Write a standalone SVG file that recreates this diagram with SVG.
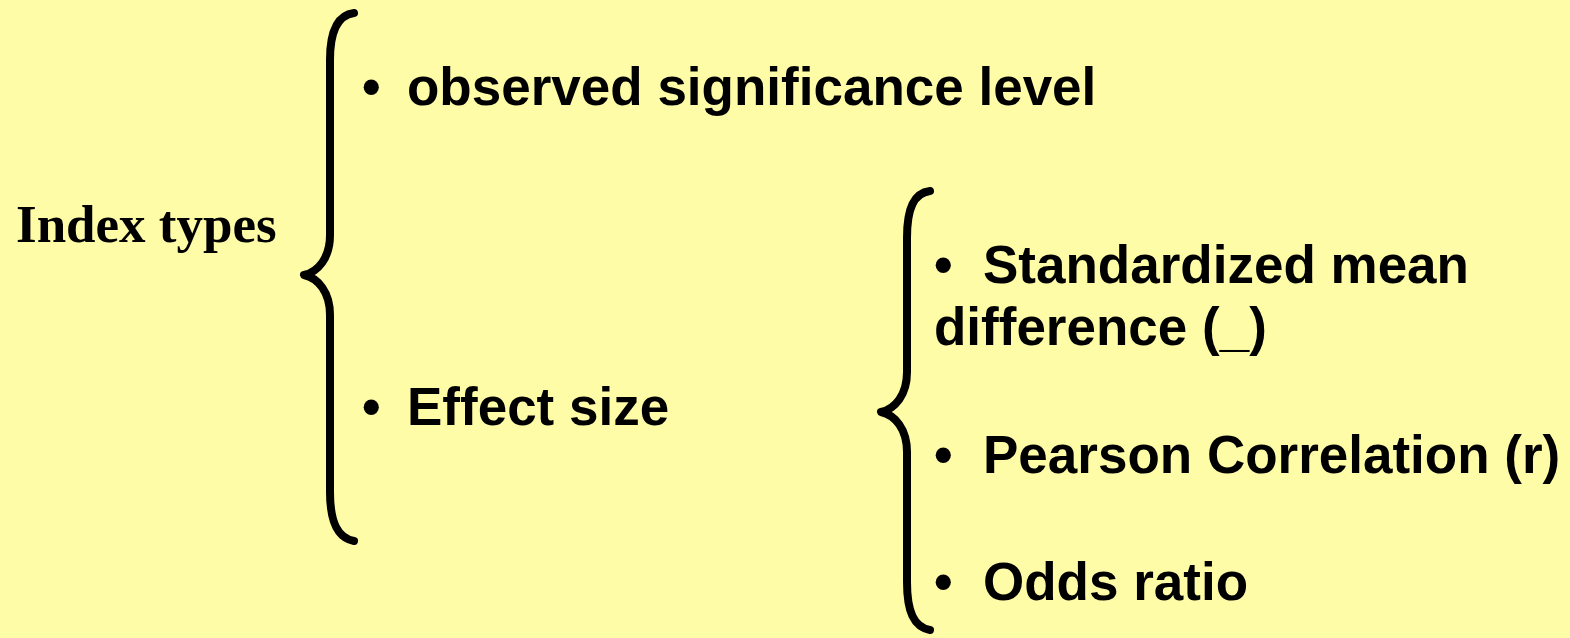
<svg xmlns="http://www.w3.org/2000/svg" width="1570" height="638" viewBox="0 0 1570 638">
<style>
.bg{fill:#FFFCA8}
.brace{fill:none;stroke:#000;stroke-width:8;stroke-linecap:round;stroke-linejoin:round}
.t{font-family:"Liberation Sans",Arial,sans-serif;font-weight:bold;font-size:53px;fill:#000}
.h{font-family:"Liberation Serif","Times New Roman",serif;font-weight:bold;font-size:53px;fill:#000}
</style>
<rect class="bg" x="0" y="0" width="1570" height="638"/>
<g id="connectors">
<path class="brace" d="M354,13 C338,15 330,30 330,60 L330,235 C330,258 318,272 304,275 C318,278 330,292 330,315 L330,492 C330,523 338,538 354,541"/>
<path class="brace" d="M930,191 C914,193 907,208 907,238 L907,372 C907,395 895,409 881,412 C895,415 907,429 907,452 L907,582 C907,612 914,627 930,630"/>
</g>
<g id="index-types"><text class="h" x="16" y="242">Index types</text></g>
<g id="observed"><text class="t" x="362" y="105">•</text><text class="t" x="407" y="105">observed significance level</text></g>
<g id="effect-size"><text class="t" x="362" y="425">•</text><text class="t" x="407" y="425">Effect size</text></g>
<g id="smd"><text class="t" x="934" y="283">•</text><text class="t" x="983" y="283">Standardized mean</text><text class="t" x="934" y="345">difference (_)</text></g>
<g id="pearson"><text class="t" x="934" y="473">•</text><text class="t" x="983" y="473">Pearson Correlation (r)</text></g>
<g id="odds"><text class="t" x="934" y="600">•</text><text class="t" x="983" y="600">Odds ratio</text></g>
</svg>
